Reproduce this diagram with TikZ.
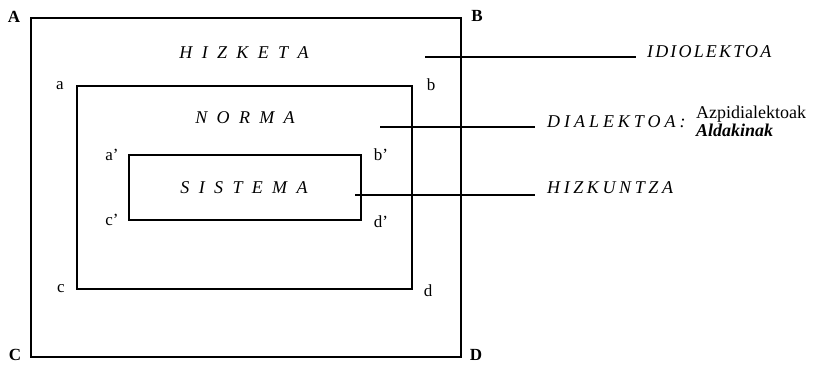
\documentclass[tikz,border=0pt]{standalone}
\usepackage{fontspec}
\setmainfont{Liberation Serif}
\newcommand{\ls}{\hspace{0.52em}}
\begin{document}
\begin{tikzpicture}[x=1pt,y=-1pt,
  frame/.style={draw, line width=1.3pt},
  link/.style={draw, line width=1.1pt},
  big/.style={font=\fontsize{17}{19}\selectfont\bfseries, inner sep=0pt},
  small/.style={font=\fontsize{17}{19}\selectfont, inner sep=0pt},
  term/.style={font=\fontsize{18}{20}\selectfont\itshape, inner sep=0pt},
  label/.style={inner sep=0pt, anchor=base west},
  side/.style={font=\fontsize{18}{20}\selectfont, inner sep=0pt, anchor=base west}]
\useasboundingbox (0,0) rectangle (830,366);

% nested frames
\draw[frame] (31,18) rectangle (461,357);
\draw[frame] (77,86) rectangle (412,289);
\draw[frame] (129,155) rectangle (361,220);

% corner letters
\node[big] (A) at (14,17) {A};
\node[big] (B) at (477,16) {B};
\node[big] (C) at (15,355) {C};
\node[big] (D) at (476,355) {D};
\node[small] (a) at (60,86) {a};
\node[small] (b) at (431,85) {b};
\node[small] (c) at (61,289) {c};
\node[small] (d) at (428,291) {d};
\node[small] (ap) at (112,155) {a'};
\node[small] (bp) at (381,155) {b'};
\node[small] (cp) at (112,220) {c'};
\node[small] (dp) at (381,222) {d'};

% level names
\node[term] (hizketa) at (244,53) {H\ls I\ls Z\ls K\ls E\ls T\ls A};
\node[term] (norma) at (245,118) {N\ls O\ls R\ls M\ls A};
\node[term] (sistema) at (244,188) {S\ls I\ls S\ls T\ls E\ls M\ls A};

% terms on the right
\node[label, font=\fontsize{18}{20}\selectfont\itshape\addfontfeature{LetterSpace=12}] (idio) at (647,58) {IDIOLEKTOA};
\node[label, font=\fontsize{18}{20}\selectfont\itshape\addfontfeature{LetterSpace=22}] (dial) at (547,128) {DIALEKTOA:};
\node[side] (azpi) at (696,119) {Azpidialektoak};
\node[side, font=\fontsize{18}{20}\selectfont\itshape\bfseries] (alda) at (696,137) {Aldakinak};
\node[label, font=\fontsize{18}{20}\selectfont\itshape\addfontfeature{LetterSpace=20}] (hizk) at (547,194) {HIZKUNTZA};

% leader lines
\coordinate (s1) at (425,57);
\coordinate (s2) at (380,127);
\coordinate (s3) at (355,195);
\draw[link] (s1) -- ([xshift=-11pt]idio.west |- s1);
\draw[link] (s2) -- ([xshift=-12pt]dial.west |- s2);
\draw[link] (s3) -- ([xshift=-12pt]hizk.west |- s3);
\end{tikzpicture}
\end{document}
